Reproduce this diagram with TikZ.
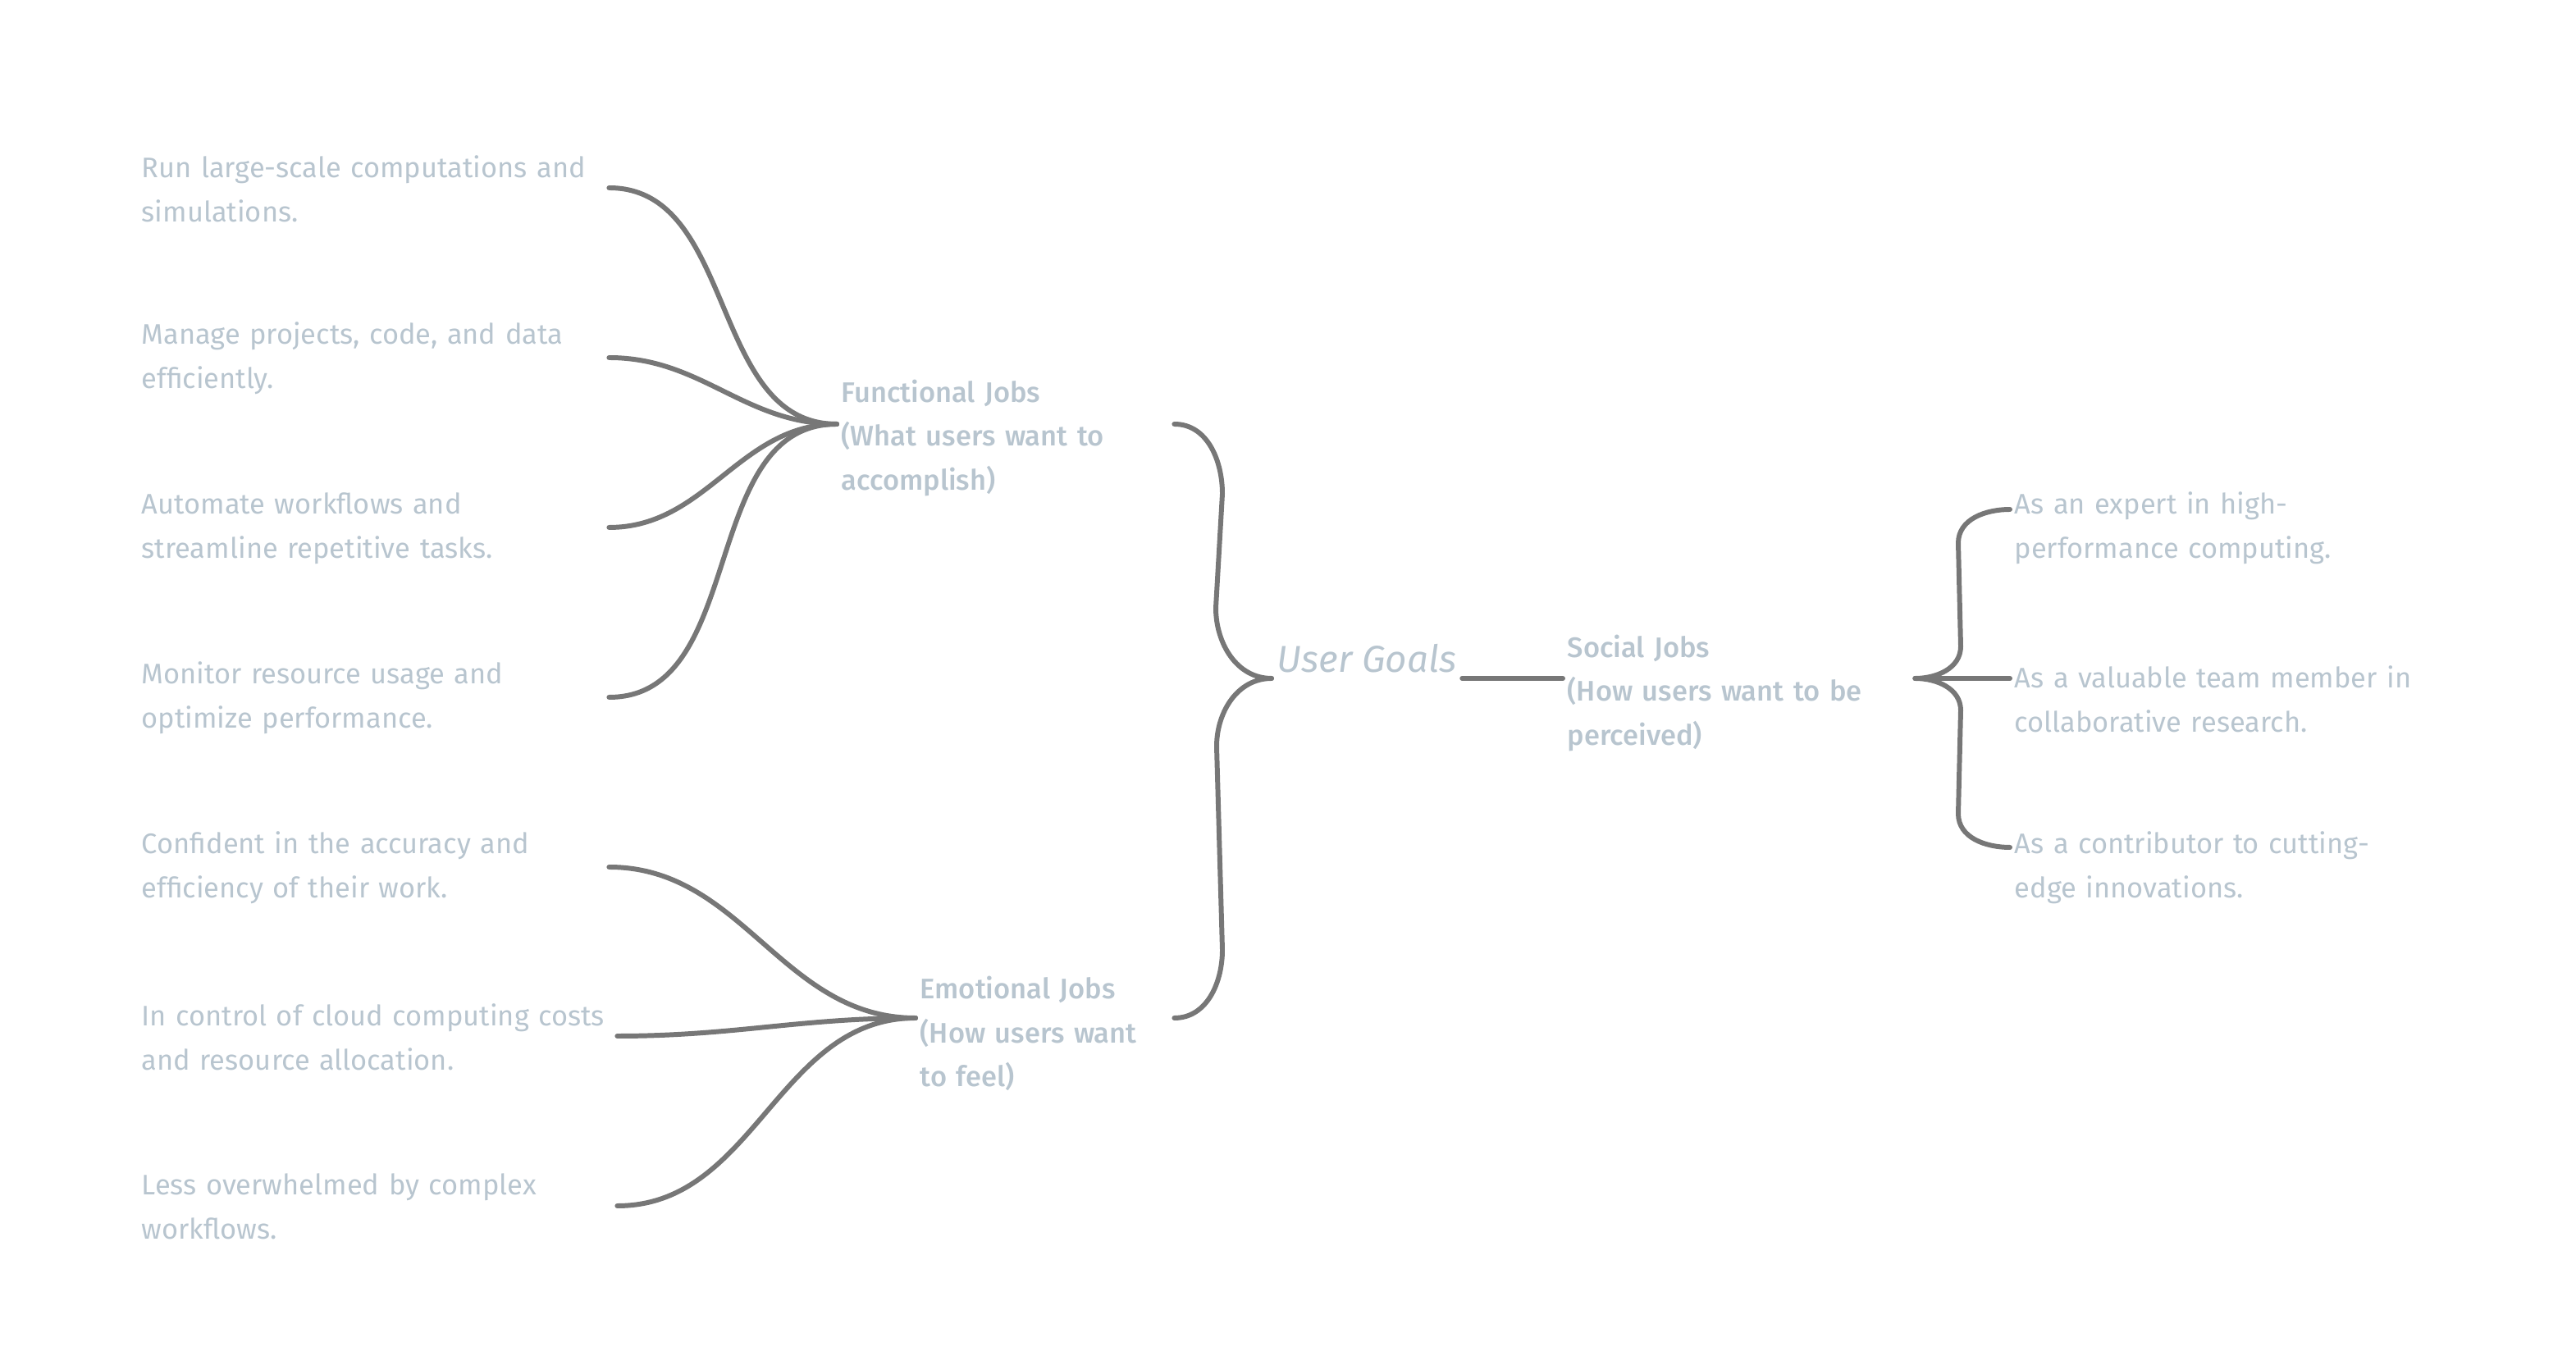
\documentclass[tikz,border=0pt]{standalone}
\usepackage{fontspec}
\setmainfont{Fira Sans}[BoldFont={* Medium}]
\usepackage{xcolor}
\usetikzlibrary{calc}
\definecolor{txtgrey}{HTML}{B8C5CF}
\definecolor{linkgrey}{HTML}{777777}

\begin{document}
\begin{tikzpicture}[
  font=\fontsize{9.8}{15.3}\selectfont,
  item/.style={anchor=west,text=txtgrey,align=left,inner sep=0.5mm,text width=5.64cm},
  head/.style={item,font=\fontsize{9.8}{15.3}\selectfont\bfseries},
  goal/.style={anchor=west,text=txtgrey,inner sep=0.6mm,font=\fontsize{13}{15}\selectfont\itshape},
  link/.style={draw=linkgrey,line width=1.7pt,line cap=round},
]
\useasboundingbox (0,0) rectangle (31.40,-16.64);

% left column
\node[item] (fn1) at (1.67,-2.30)  {Run large-scale computations and\\simulations.};
\node[item] (fn2) at (1.67,-4.37)  {Manage projects, code, and data\\efficiently.};
\node[item] (fn3) at (1.67,-6.44)  {Automate workflows and\\streamline repetitive tasks.};
\node[item] (fn4) at (1.67,-8.51)  {Monitor resource usage and\\optimize performance.};
\node[item] (em1) at (1.67,-10.58) {Confident in the accuracy and\\efficiency of their work.};
\node[item,text width=5.74cm] (em2) at (1.67,-12.64) {In control of cloud computing costs\\and resource allocation.};
\node[item,text width=5.74cm] (em3) at (1.67,-14.71) {Less overwhelmed by complex\\workflows.};

% job groups
\node[head,text width=4.00cm] (fj) at (10.20,-5.34)  {Functional Jobs\\(What users want to\\accomplish)};
\node[head,text width=3.04cm] (ej) at (11.16,-12.60) {Emotional Jobs\\(How users want\\to feel)};
\node[goal] (goals) at (15.50,-8.03) {User Goals};
\node[head,text width=4.18cm] (sj) at (19.05,-8.45) {Social Jobs\\(How users want to be\\perceived)};

% right column
\node[item,text width=5.2cm] (so1) at (24.50,-6.44)  {As an expert in high-\\performance computing.};
\node[item,text width=5.2cm] (so2) at (24.50,-8.52)  {As a valuable team member in\\collaborative research.};
\node[item,text width=5.2cm] (so3) at (24.50,-10.58) {As a contributor to cutting-\\edge innovations.};

% fans into the groups
\foreach \n in {fn1,fn2,fn3,fn4}
  \draw[link] ([yshift=0.1mm]\n.east) to[out=0,in=180] ([yshift=1.7mm]fj.west);
\foreach \n in {em1,em2,em3}
  \draw[link] ([yshift=0.1mm]\n.east) to[out=0,in=180] ([yshift=1.9mm]ej.west);

% big brace
\draw[link] ([yshift=1.7mm]fj.east) to[out=0,in=90] (14.90,-6.02) -- (14.82,-7.41)
  to[out=-90,in=180] ([yshift=-2.4mm]goals.west);
\draw[link] ([yshift=1.9mm]ej.east) to[out=0,in=-90] (14.90,-11.58) -- (14.83,-9.10)
  to[out=90,in=180] ([yshift=-2.4mm]goals.west);
\draw[link] ([yshift=-2.4mm]goals.east) -- ([yshift=1.8mm]sj.west);

% small brace
\draw[link] ([yshift=1.8mm]sj.east) to[out=0,in=-90] (23.90,-7.88) -- (23.87,-6.62)
  to[out=90,in=180] ([yshift=2.3mm]so1.west);
\draw[link] ([yshift=1.8mm]sj.east) -- ([yshift=2.5mm]so2.west);
\draw[link] ([yshift=1.8mm]sj.east) to[out=0,in=90] (23.90,-8.66) -- (23.87,-9.92)
  to[out=-90,in=180] ([yshift=2.5mm]so3.west);
\end{tikzpicture}
\end{document}
